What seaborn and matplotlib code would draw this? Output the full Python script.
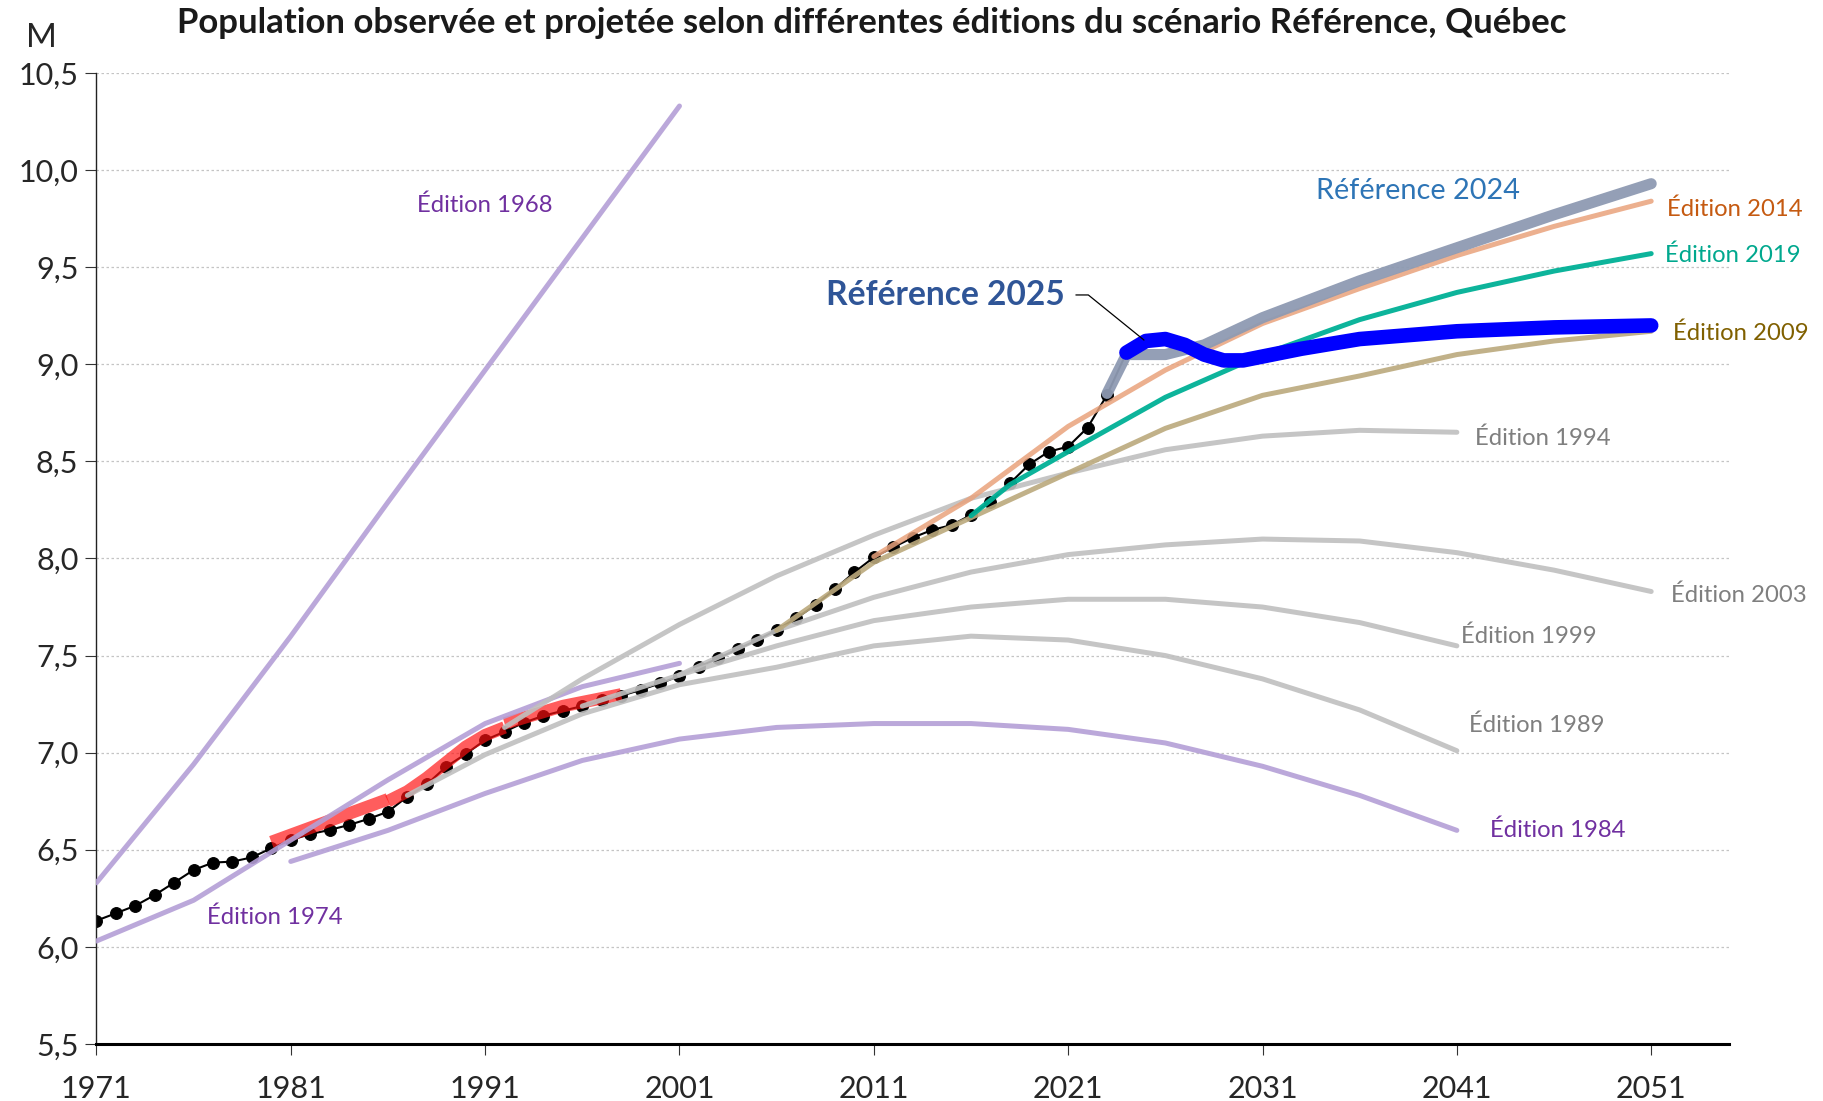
import numpy as np
import pandas as pd
import seaborn as sns
import matplotlib as mpl
from matplotlib import pyplot as plt
from matplotlib.ticker import FuncFormatter, MultipleLocator

sns.set_style('white')
plt.rcParams['font.family'] = ['Lato', 'DejaVu Sans']

# Population observée (millions)
annees_obs = list(range(1971, 2025))
pop_obs = [6.135, 6.173, 6.212, 6.267, 6.331, 6.396, 6.434, 6.439, 6.461, 6.508,
           6.550, 6.581, 6.602, 6.628, 6.659, 6.696, 6.774, 6.837, 6.928, 6.993,
           7.065, 7.108, 7.155, 7.190, 7.216, 7.240, 7.271, 7.293, 7.323, 7.357,
           7.395, 7.443, 7.486, 7.534, 7.580, 7.632, 7.692, 7.761, 7.843, 7.929,
           8.006, 8.058, 8.107, 8.147, 8.172, 8.224, 8.292, 8.387, 8.485, 8.550,
           8.576, 8.674, 8.842, 9.060]

# ancienne série observée (rouge), en trois morceaux
rouge_a_annees = [1980, 1986]
rouge_a_pop = [6.54, 6.76]
rouge_b_annees = [1986, 1987, 1988, 1989, 1990, 1991, 1992]
rouge_b_pop = [6.75, 6.80, 6.87, 6.95, 7.03, 7.09, 7.13]
rouge_c_annees = [1992, 1993, 1994, 1995, 1996, 1997, 1998]
rouge_c_pop = [7.15, 7.18, 7.21, 7.24, 7.26, 7.28, 7.30]

# Éditions antérieures
ed1968_annees = [1971, 1976, 1981, 1986, 1991, 1996, 2001]
ed1968_pop = [6.33, 6.94, 7.60, 8.29, 8.97, 9.65, 10.33]

ed1974_annees = [1971, 1976, 1981, 1986, 1991, 1996, 2001]
ed1974_pop = [6.03, 6.24, 6.55, 6.86, 7.15, 7.34, 7.46]

ed1984_annees = [1981, 1986, 1991, 1996, 2001, 2006, 2011, 2016, 2021, 2026, 2031, 2036, 2041]
ed1984_pop = [6.44, 6.60, 6.79, 6.96, 7.07, 7.13, 7.15, 7.15, 7.12, 7.05, 6.93, 6.78, 6.60]

ed1989_annees = [1987, 1991, 1996, 2001, 2006, 2011, 2016, 2021, 2026, 2031, 2036, 2041]
ed1989_pop = [6.78, 6.99, 7.20, 7.35, 7.44, 7.55, 7.60, 7.58, 7.50, 7.38, 7.22, 7.01]

ed1994_annees = [1992, 1996, 2001, 2006, 2011, 2016, 2021, 2026, 2031, 2036, 2041]
ed1994_pop = [7.13, 7.38, 7.66, 7.91, 8.12, 8.31, 8.44, 8.56, 8.63, 8.66, 8.65]

ed1999_annees = [1996, 2001, 2006, 2011, 2016, 2021, 2026, 2031, 2036, 2041]
ed1999_pop = [7.24, 7.40, 7.55, 7.68, 7.75, 7.79, 7.79, 7.75, 7.67, 7.55]

ed2003_annees = [2001, 2006, 2011, 2016, 2021, 2026, 2031, 2036, 2041, 2046, 2051]
ed2003_pop = [7.40, 7.63, 7.80, 7.93, 8.02, 8.07, 8.10, 8.09, 8.03, 7.94, 7.83]

ed2009_annees = [2006, 2011, 2016, 2021, 2026, 2031, 2036, 2041, 2046, 2051]
ed2009_pop = [7.63, 7.98, 8.21, 8.44, 8.67, 8.84, 8.94, 9.05, 9.12, 9.17]

ed2014_annees = [2011, 2016, 2021, 2026, 2031, 2036, 2041, 2046, 2051]
ed2014_pop = [8.01, 8.31, 8.68, 8.97, 9.21, 9.39, 9.56, 9.71, 9.84]

ed2019_annees = [2016, 2018, 2021, 2026, 2031, 2036, 2041, 2046, 2051]
ed2019_pop = [8.22, 8.38, 8.55, 8.83, 9.05, 9.23, 9.37, 9.48, 9.57]

ref2024_annees = [2023, 2024, 2026, 2028, 2031, 2036, 2041, 2046, 2051]
ref2024_pop = [8.85, 9.05, 9.05, 9.10, 9.24, 9.43, 9.60, 9.77, 9.93]

ref2025_annees = [2024, 2025, 2026, 2027, 2028, 2029, 2030, 2031, 2033, 2036, 2041, 2046, 2051]
ref2025_pop = [9.06, 9.12, 9.13, 9.10, 9.05, 9.02, 9.02, 9.04, 9.08, 9.13, 9.17, 9.19, 9.20]

VIOLET = '#b49fd6'
GRIS = '#bfbfbf'

fig = plt.figure(figsize=(18.23, 11.01), dpi=100)
ax = fig.add_axes([0.0529, 0.0518, 0.8955, 0.8819])


def trace(x, y, color, lw=3.6, alpha=0.9, z=3):
    sns.lineplot(x=x, y=y, ax=ax, color=color, linewidth=lw, alpha=alpha,
                 zorder=z, solid_capstyle='round')


# observé
sns.lineplot(x=annees_obs, y=pop_obs, ax=ax, color='black', linewidth=1.5,
             marker='o', markersize=8.5, markeredgecolor='black', zorder=2)

for xs, ys in [(rouge_a_annees, rouge_a_pop), (rouge_b_annees, rouge_b_pop),
               (rouge_c_annees, rouge_c_pop)]:
    sns.lineplot(x=xs, y=ys, ax=ax, color='#ff1010', linewidth=9, alpha=0.68,
                 zorder=3, solid_capstyle='butt')

trace(ed1968_annees, ed1968_pop, VIOLET)
trace(ed1974_annees, ed1974_pop, VIOLET)
trace(ed1984_annees, ed1984_pop, VIOLET)
trace(ed1989_annees, ed1989_pop, GRIS)
trace(ed1994_annees, ed1994_pop, GRIS)
trace(ed1999_annees, ed1999_pop, GRIS)
trace(ed2003_annees, ed2003_pop, GRIS)
trace(ed2009_annees, ed2009_pop, '#bba97c')
trace(ed2014_annees, ed2014_pop, '#e9a27c', alpha=0.85)
trace(ed2019_annees, ed2019_pop, '#00b096', alpha=0.95)
trace(ref2024_annees, ref2024_pop, '#8e9ab2', lw=8, alpha=0.95, z=4)
trace(ref2025_annees, ref2025_pop, '#0000ff', lw=10.5, alpha=1.0, z=5)

# axes
ax.set_xlim(1971, 2055)
ax.set_ylim(5.5, 10.5)
ax.set_xticks(range(1971, 2052, 10))
ax.yaxis.set_major_locator(MultipleLocator(0.5))
ax.yaxis.set_major_formatter(FuncFormatter(lambda v, p: f'{v:.1f}'.replace('.', ',')))
ax.set_xlabel('')
ax.set_ylabel('')
ax.yaxis.grid(True, linestyle=(0, (2, 2)), color='#c4c4c4', linewidth=0.9)
ax.xaxis.grid(False)
for s in ['top', 'right']:
    ax.spines[s].set_visible(False)
ax.spines['left'].set_color('#222222')
ax.spines['left'].set_linewidth(1.0)
ax.spines['bottom'].set_color('black')
ax.spines['bottom'].set_linewidth(2.2)
ax.tick_params(axis='x', bottom=True, direction='out', length=8, width=0.8,
               color='#333333', pad=14, labelsize=22)
ax.tick_params(axis='y', left=True, direction='out', length=8, width=0.8,
               color='#333333', pad=5, labelsize=22)

# étiquettes
lab = dict(fontsize=17.2, ha='center', va='center')
ax.text(1991.0, 9.82, 'Édition 1968', color='#7030a0', **lab)
ax.text(1980.2, 6.15, 'Édition 1974', color='#7030a0', **lab)
ax.text(2046.2, 6.60, 'Édition 1984', color='#7030a0', **lab)
ax.text(2045.1, 7.14, 'Édition 1989', color='#7f7f7f', **lab)
ax.text(2044.7, 7.60, 'Édition 1999', color='#7f7f7f', **lab)
ax.text(2055.5, 7.81, 'Édition 2003', color='#7f7f7f', **lab)
ax.text(2045.4, 8.62, 'Édition 1994', color='#7f7f7f', **lab)
ax.text(2055.6, 9.16, 'Édition 2009', color='#806000', **lab)
ax.text(2055.2, 9.56, 'Édition 2019', color='#00a88e', **lab)
ax.text(2055.3, 9.80, 'Édition 2014', color='#c55a11', **lab)
ax.text(2039.0, 9.89, 'Référence 2024', color='#2e75b6', fontsize=20.8,
        ha='center', va='center')

ax.annotate('Référence 2025', xy=(2024.9, 9.125), xytext=(2020.8, 9.357),
            fontsize=24.2, fontweight='bold', color='#2f5597', ha='right', va='center',
            arrowprops=dict(arrowstyle='-', color='black', lw=0.9, relpos=(1, 0.5),
                            shrinkA=6, shrinkB=0,
                            connectionstyle='angle,angleA=0,angleB=-39,rad=0'),
            zorder=6)

fig.text(0.478, 0.979, 'Population observée et projetée selon différentes éditions du scénario Référence, Québec',
         fontsize=25, fontweight='bold', ha='center', va='center', color='#1a1a1a')
fig.text(0.0225, 0.9655, 'M', fontsize=24, ha='center', va='center')

fig.savefig('out.png', dpi=100)
